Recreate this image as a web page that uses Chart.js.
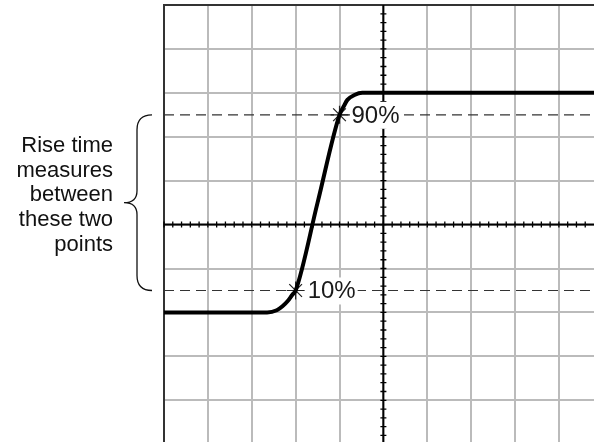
<!DOCTYPE html>
<html>
<head>
<meta charset="utf-8">
<script src="https://cdn.jsdelivr.net/npm/chart.js@4.4.1/dist/chart.umd.min.js"></script>
<style>
  html, body { margin: 0; padding: 0; background: #fff; }
  #wrap { width: 594px; height: 442px; position: relative; }
</style>
</head>
<body>
<div id="wrap"><canvas id="scope"></canvas></div>
<script>
// Waveform, in screen divisions (0,0 = centre of graticule)
const timeDiv   = [-5, -2.65, -2.43, -2.3, -2.18, -2.07, -2.0, -1.5, -1.0, -0.9, -0.82, -0.66, -0.48, 5];
const signalDiv = [-2, -2, -1.95, -1.86, -1.74, -1.59, -1.5, 0.5, 2.5, 2.7, 2.84, 2.95, 3, 3];

// 10% / 90% reference levels and where the edge crosses them
const levelLabels = ['10%', '90%'];
const levelValues = [-1.5, 2.5];
const crossTimes  = [-2, -1];

const noteLines = ['Rise time', 'measures', 'between', 'these two', 'points'];

const FONT = '"Liberation Sans", Arial, sans-serif';

const levelSets = levelValues.map((v) => ({
  data: [{ x: -5, y: v }, { x: 5, y: v }],
  borderColor: '#333',
  borderWidth: 1.2,
  borderDash: [10, 6],
  pointRadius: 0,
  order: 3
}));

// centre axes with minor ticks, labels with white boxes, brace + note
const decor = {
  id: 'decor',
  beforeDatasetsDraw(chart) {
    const { ctx, chartArea: a, scales: { x, y } } = chart;
    const cx = x.getPixelForValue(0), cy = y.getPixelForValue(0);
    ctx.save();
    ctx.strokeStyle = '#000';
    ctx.lineWidth = 2;
    ctx.beginPath();
    ctx.moveTo(cx, a.top); ctx.lineTo(cx, a.bottom);
    ctx.moveTo(a.left, cy); ctx.lineTo(a.right, cy);
    ctx.stroke();
    ctx.lineWidth = 1.3;
    ctx.beginPath();
    for (let t = -5; t <= 5.001; t += 0.2) {
      const px = x.getPixelForValue(t), py = y.getPixelForValue(t);
      if (px >= a.left && px <= a.right) { ctx.moveTo(px, cy - 3); ctx.lineTo(px, cy + 3); }
      if (py >= a.top && py <= a.bottom) { ctx.moveTo(cx - 3, py); ctx.lineTo(cx + 3, py); }
    }
    ctx.stroke();
    ctx.restore();
  },
  afterDatasetsDraw(chart) {
    const { ctx, scales: { x, y } } = chart;
    ctx.save();
    ctx.font = '24px ' + FONT;
    ctx.textBaseline = 'alphabetic';
    levelLabels.forEach((lab, i) => {
      const px = x.getPixelForValue(crossTimes[i]) + 12;
      const base = y.getPixelForValue(levelValues[i]) + 8;
      const w = ctx.measureText(lab).width;
      ctx.fillStyle = '#fff';
      ctx.fillRect(px - 1, base - 21, w + 3, 27);
      ctx.fillStyle = '#1a1a1a';
      ctx.fillText(lab, px, base);
    });

    // brace spanning the two levels
    const top = y.getPixelForValue(levelValues[1]);
    const bot = y.getPixelForValue(levelValues[0]);
    const mid = (top + bot) / 2;
    const xe = 152, xs = 137, xt = 124;
    ctx.strokeStyle = '#111';
    ctx.lineWidth = 1.3;
    ctx.beginPath();
    ctx.moveTo(xe, top);
    ctx.quadraticCurveTo(xs, top, xs, top + 15);
    ctx.lineTo(xs, mid - 12);
    ctx.quadraticCurveTo(xs, mid, xt, mid);
    ctx.quadraticCurveTo(xs, mid, xs, mid + 12);
    ctx.lineTo(xs, bot - 15);
    ctx.quadraticCurveTo(xs, bot, xe, bot);
    ctx.stroke();

    ctx.font = '22px ' + FONT;
    ctx.fillStyle = '#111';
    ctx.textAlign = 'right';
    noteLines.forEach((s, i) => ctx.fillText(s, 113, 152 + i * 24.7));
    ctx.restore();
  }
};

new Chart(document.getElementById('scope'), {
  type: 'line',
  data: {
    datasets: [
      {
        data: timeDiv.map((t, i) => ({ x: t, y: signalDiv[i] })),
        borderColor: '#000',
        borderWidth: 4,
        pointRadius: 0,
        cubicInterpolationMode: 'monotone',
        order: 0
      },
      {
        data: crossTimes.map((t, i) => ({ x: t, y: levelValues[i] })),
        showLine: false,
        pointStyle: 'star',
        pointRadius: 9,
        pointBorderWidth: 1.2,
        pointBorderColor: '#222',
        order: 1
      },
      ...levelSets
    ]
  },
  options: {
    responsive: true,
    maintainAspectRatio: false,
    animation: false,
    layout: { autoPadding: false, padding: { left: 164, top: 5, right: 0, bottom: 0 } },
    plugins: { legend: { display: false }, tooltip: { enabled: false } },
    scales: {
      x: {
        type: 'linear', position: 'top', min: -5, max: 4.8,
        ticks: { display: false, stepSize: 1, includeBounds: false },
        grid: { color: '#bbb', lineWidth: 2, drawTicks: false },
        border: { color: '#333', width: 2 }
      },
      y: {
        type: 'linear', min: -4.95, max: 5,
        ticks: { display: false, stepSize: 1, includeBounds: false },
        grid: { color: '#bbb', lineWidth: 2, drawTicks: false },
        border: { color: '#333', width: 2 }
      }
    }
  },
  plugins: [decor]
});
</script>
</body>
</html>
